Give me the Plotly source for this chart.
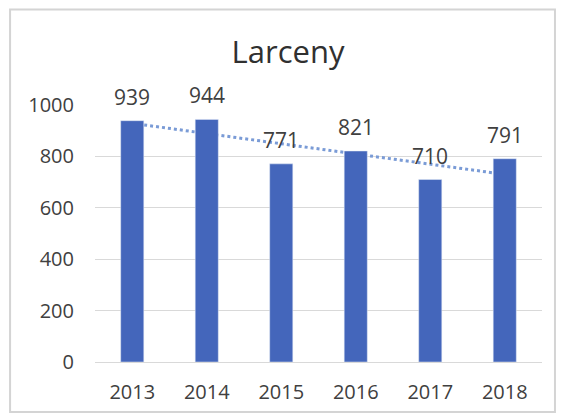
import numpy as np
import plotly.graph_objects as go

years = ["2013", "2014", "2015", "2016", "2017", "2018"]
larceny = [939, 944, 771, 821, 710, 791]
y_ticks = [0, 200, 400, 600, 800, 1000]

# linear trendline, like the Excel one
idx = np.arange(len(larceny))
slope, icpt = np.polyfit(idx, larceny, 1)
trend = slope * idx + icpt

fig = go.Figure()

# trend drawn on the lower axes so the bars cover it
fig.add_trace(go.Scatter(x=years, y=trend, mode="lines",
                         line=dict(color="#7A9BD6", width=3, dash="dot"),
                         hoverinfo="skip", xaxis="x", yaxis="y"))

fig.add_trace(go.Bar(x=years, y=larceny, marker=dict(color="#4466BB"),
                     xaxis="x2", yaxis="y2"))

# data labels above the bars (category position by index)
for i, v in enumerate(larceny):
    fig.add_annotation(x=i, y=v, xref="x", yref="y", text=str(v),
                       showarrow=False, yanchor="middle", yshift=24,
                       font=dict(size=21, color="#404040", family="Open Sans"))

axis_font = dict(size=20, color="#404040", family="Open Sans")

fig.update_layout(
    width=560, height=412,
    margin=dict(l=87, r=26, t=97, b=58),
    paper_bgcolor="white", plot_bgcolor="white",
    showlegend=False,
    bargap=0.69,
    title=dict(text="Larceny", x=0.5, xanchor="center", y=0.893, yanchor="middle",
               font=dict(size=31, color="#303030", family="Open Sans")),
    xaxis=dict(type="category", range=[-0.5, 5.5], showgrid=False,
               showline=True, linecolor="#d9d9d9", linewidth=1,
               tickfont=axis_font, ticks="", ticklabelstandoff=12),
    yaxis=dict(range=[0, 1000], tickvals=y_ticks, showgrid=True, gridcolor="#d9d9d9",
               zeroline=False, tickfont=axis_font, ticklabelstandoff=20),
    xaxis2=dict(type="category", range=[-0.5, 5.5], overlaying="x",
                visible=False),
    yaxis2=dict(range=[0, 1000], overlaying="y", visible=False),
    shapes=[dict(type="rect", xref="paper", yref="paper",
                 x0=-0.19, x1=1.029, y0=-0.195, y1=1.372,
                 line=dict(color="#d4d4d4", width=2))],
)

fig.write_html("out.html")
